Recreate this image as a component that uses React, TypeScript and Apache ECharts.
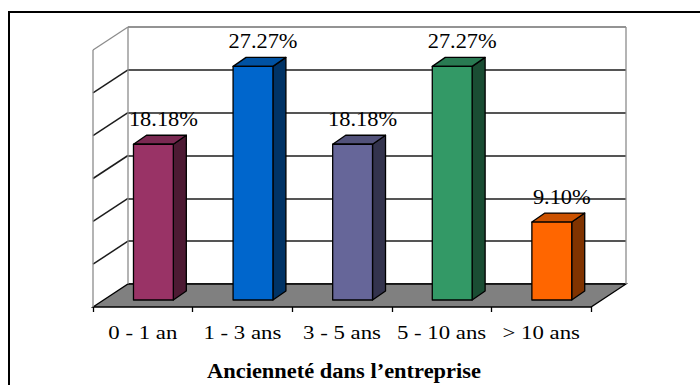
import React, { useEffect, useRef } from "react";
import * as echarts from "echarts";

// Seniority groups and their share of staff (%)
const CATEGORIES = ["0 - 1 an", "1 - 3 ans", "3 - 5 ans", "5 - 10 ans", "> 10 ans"];
const SHARES = [18.18, 27.27, 18.18, 27.27, 9.1];
const VALUE_TICKS = [0, 5, 10, 15, 20, 25, 30];
const AXIS_TITLE = "Ancienneté dans l’entreprise";

// Face colours per bar: front, top, side
const FRONT_COLORS = ["#993366", "#0066cc", "#666699", "#339966", "#ff6600"];
const TOP_COLORS = ["#7a2952", "#0052a3", "#52527a", "#297a52", "#cc5200"];
const SIDE_COLORS = ["#4d1a33", "#003366", "#33334d", "#1a4d33", "#803300"];

// Oblique projection offsets, measured from the back-wall plane
const FLOOR_FRONT = [-35, 23];
const BAR_FRONT = [-24.4, 16];
const BAR_DEPTH = [13, -9];
const BAR_WIDTH_RATIO = 0.4;

const SERIF = "'Liberation Serif', 'Times New Roman', serif";
const WALL_EDGE = "#8c8c8c";
const GRID_LINE = "#1c1c1c";

function renderScene(params: any, api: any) {
  const cs = params.coordSys;
  const [fx, fy] = FLOOR_FRONT;
  const left = cs.x;
  const right = cs.x + cs.width;
  const bottom = cs.y + cs.height;
  const topY = cs.y;
  const children: any[] = [];

  // floor
  children.push({
    type: "polygon",
    shape: {
      points: [
        [left + fx, bottom + fy],
        [left, bottom],
        [right, bottom],
        [right + fx, bottom + fy],
      ],
    },
    style: { fill: "#808080", stroke: "#000", lineWidth: 1.3 },
  });

  // left wall: diagonal grid lines
  VALUE_TICKS.forEach((t, k) => {
    if (k === 0) return;
    const p = api.coord([0, t]);
    const last = k === VALUE_TICKS.length - 1;
    children.push({
      type: "line",
      shape: { x1: left, y1: p[1], x2: left + fx, y2: p[1] + fy },
      style: { stroke: last ? WALL_EDGE : GRID_LINE, lineWidth: last ? 1.3 : 1.5 },
    });
  });

  // wall edges
  const edges = [
    [left + fx, topY + fy, left + fx, bottom + fy],
    [left, topY, left, bottom],
    [right, topY, right, bottom],
    [left, topY, right, topY],
  ];
  edges.forEach(([x1, y1, x2, y2]) =>
    children.push({
      type: "line",
      shape: { x1, y1, x2, y2 },
      style: { stroke: WALL_EDGE, lineWidth: 1.3 },
    })
  );

  return { type: "group", children };
}

function renderBar(params: any, api: any) {
  const i = api.value(0);
  const v = api.value(1);
  const base = api.coord([i, 0]);
  const top = api.coord([i, v]);
  const band = api.size([1, 0])[0];
  const w = band * BAR_WIDTH_RATIO;
  const xl = base[0] + BAR_FRONT[0] - w / 2;
  const xr = xl + w;
  const yb = base[1] + BAR_FRONT[1];
  const yt = top[1] + BAR_FRONT[1];
  const [dx, dy] = BAR_DEPTH;
  const edge = { stroke: "#000", lineWidth: 1.3, lineJoin: "round" };
  return {
    type: "group",
    children: [
      {
        type: "polygon",
        shape: { points: [[xr, yt], [xr + dx, yt + dy], [xr + dx, yb + dy], [xr, yb]] },
        style: { fill: SIDE_COLORS[i], ...edge },
      },
      {
        type: "polygon",
        shape: { points: [[xl, yt], [xl + dx, yt + dy], [xr + dx, yt + dy], [xr, yt]] },
        style: { fill: TOP_COLORS[i], ...edge },
      },
      {
        type: "rect",
        shape: { x: xl, y: yt, width: w, height: yb - yt },
        style: { fill: FRONT_COLORS[i], ...edge },
      },
      {
        type: "text",
        x: (xl + xr) / 2 + 10,
        y: yt + dy - 16,
        scaleX: 1.12,
        style: {
          text: v.toFixed(2) + "%",
          fontFamily: SERIF,
          fontSize: 20,
          fill: "#000",
          align: "center",
          verticalAlign: "middle",
        },
      },
    ],
  };
}

function renderCategoryLabel(params: any, api: any) {
  const i = api.value(0);
  const p = api.coord([i, 0]);
  return {
    type: "text",
    x: p[0] + FLOOR_FRONT[0],
    y: p[1] + FLOOR_FRONT[1] + 26,
    scaleX: 1.2,
    style: {
      text: CATEGORIES[i],
      fontFamily: SERIF,
      fontSize: 19,
      fill: "#000",
      align: "center",
      verticalAlign: "middle",
    },
  };
}

export default function App() {
  const ref = useRef<HTMLDivElement>(null);

  useEffect(() => {
    if (!ref.current) return;
    const chart = echarts.init(ref.current, null, { renderer: "svg" });
    const barData = SHARES.map((v, i) => [i, v]);
    const catData = CATEGORIES.map((_, i) => [i, 0]);

    chart.setOption({
      animation: false,
      backgroundColor: "#fff",
      grid: [
        { left: 128, top: 27, width: 498, height: 257 },
        { left: 93, top: 50, width: 498, height: 257 },
      ],
      xAxis: [
        {
          type: "category",
          gridIndex: 0,
          data: CATEGORIES,
          axisLine: { show: false },
          axisTick: { show: false },
          axisLabel: { show: false },
        },
        {
          type: "category",
          gridIndex: 1,
          data: CATEGORIES,
          axisLine: { show: false },
          axisTick: { show: true, length: 5, lineStyle: { color: "#000", width: 1.3 } },
          axisLabel: { show: false },
        },
      ],
      yAxis: [
        {
          type: "value",
          gridIndex: 0,
          min: 0,
          max: 30,
          interval: 5,
          axisLine: { show: false },
          axisTick: { show: false },
          axisLabel: { show: false },
          splitLine: {
            show: true,
            lineStyle: {
              color: [GRID_LINE, GRID_LINE, GRID_LINE, GRID_LINE, GRID_LINE, GRID_LINE, WALL_EDGE],
              width: 1.5,
            },
          },
        },
        {
          type: "value",
          gridIndex: 1,
          min: 0,
          max: 30,
          show: false,
        },
      ],
      graphic: [
        {
          type: "rect",
          shape: { x: 9, y: 12, width: 720, height: 420 },
          style: { fill: "none", stroke: "#000", lineWidth: 2 },
          z: 10,
        },
        {
          type: "text",
          x: 344,
          y: 371,
          scaleX: 1.07,
          style: {
            text: AXIS_TITLE,
            fontFamily: SERIF,
            fontSize: 21,
            fontWeight: "bold",
            fill: "#000",
            align: "center",
            verticalAlign: "middle",
          },
        },
      ],
      series: [
        {
          type: "custom",
          xAxisIndex: 0,
          yAxisIndex: 0,
          data: [[0, 0]],
          renderItem: renderScene,
          z: 1,
          silent: true,
        },
        {
          type: "custom",
          xAxisIndex: 0,
          yAxisIndex: 0,
          data: barData,
          encode: { x: 0, y: 1 },
          renderItem: renderBar,
          z: 3,
        },
        {
          type: "custom",
          xAxisIndex: 0,
          yAxisIndex: 0,
          data: catData,
          encode: { x: 0, y: 1 },
          renderItem: renderCategoryLabel,
          z: 3,
        },
      ],
    });

    return () => chart.dispose();
  }, []);

  return (
    <div
      ref={ref}
      style={{ position: "fixed", left: 0, top: 0, width: 700, height: 385 }}
    />
  );
}
